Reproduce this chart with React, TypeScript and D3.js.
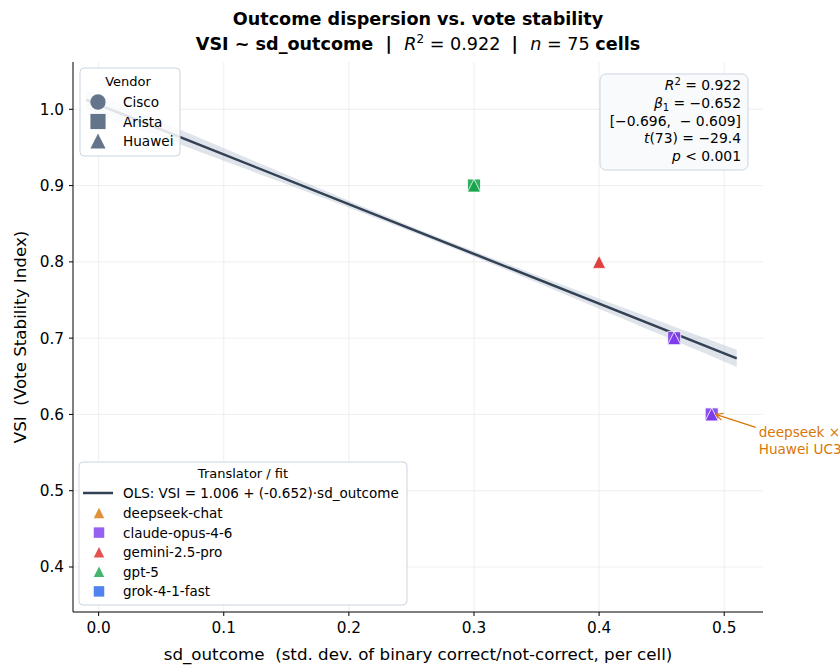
import React from 'react';
import * as d3 from 'd3';

// Translators (colour encodes translator, marker encodes vendor)
const translators = ['deepseek-chat', 'claude-opus-4-6', 'gemini-2.5-pro', 'gpt-5', 'grok-4-1-fast'];
const translatorColors = ['#d97706', '#7c3aed', '#dc2626', '#16a34a', '#2563eb'];
const translatorLegendShape = ['Huawei', 'Arista', 'Huawei', 'Huawei', 'Arista'];

const vendors = ['Cisco', 'Arista', 'Huawei'];

// Visible cells (drawn in this order)
const pointTranslator = ['gpt-5', 'gpt-5', 'gemini-2.5-pro', 'claude-opus-4-6', 'claude-opus-4-6', 'deepseek-chat', 'claude-opus-4-6', 'claude-opus-4-6'];
const pointVendor = ['Arista', 'Huawei', 'Huawei', 'Arista', 'Huawei', 'Huawei', 'Arista', 'Huawei'];
const pointX = [0.30, 0.30, 0.40, 0.46, 0.46, 0.49, 0.49, 0.49];
const pointY = [0.90, 0.90, 0.80, 0.70, 0.70, 0.60, 0.60, 0.60];

// OLS fit
const intercept = 1.006;
const slope = -0.652;
const seSlope = 0.0222;
const seAtMean = 0.0017;
const xMean = 0.27;
const tCrit = 1.993;
const fitRange = [-0.01, 0.51];

const xTicks = [0.0, 0.1, 0.2, 0.3, 0.4, 0.5];
const yTicks = [0.4, 0.5, 0.6, 0.7, 0.8, 0.9, 1.0];

const FONT = 'DejaVu Sans, sans-serif';

const triangle = {
  draw(ctx: any, size: number) {
    const r = Math.sqrt(size) / 2;
    ctx.moveTo(0, -r);
    ctx.lineTo(r, r);
    ctx.lineTo(-r, r);
    ctx.closePath();
  },
};

const shapeFor = (v: string) => (v === 'Cisco' ? d3.symbolCircle : v === 'Arista' ? d3.symbolSquare : triangle);
const symbolPath = (v: string, size: number) => {
  const s = v === 'Cisco' ? size * 0.8 : size;
  return d3.symbol().type(shapeFor(v) as any).size(s)() as string;
};

export default function App() {
  const width = 840;
  const height = 666;
  const left = 73, right = 763, top = 62, bottom = 612;

  const x = d3.scaleLinear().domain([-0.0205, 0.531]).range([left, right]);
  const y = d3.scaleLinear().domain([0.341, 1.062]).range([bottom, top]);

  const colorOf = (t: string) => translatorColors[translators.indexOf(t)];

  // regression line + confidence band
  const bandXs = d3.range(0, 41).map(i => fitRange[0] + (fitRange[1] - fitRange[0]) * i / 40);
  const half = (xv: number) => tCrit * Math.sqrt(seAtMean * seAtMean + seSlope * seSlope * (xv - xMean) * (xv - xMean));
  const band = d3.area<number>()
    .x(d => x(d))
    .y0(d => y(intercept + slope * d - half(d)))
    .y1(d => y(intercept + slope * d + half(d)))(bandXs) as string;
  const fitLine = d3.line<number>()
    .x(d => x(d))
    .y(d => y(intercept + slope * d))(fitRange) as string;

  // annotation anchor
  const ax = x(0.49), ay = y(0.60);

  return (
    <svg width={width} height={height} style={{ position: 'absolute', left: 0, top: 0, fontFamily: FONT }}>
      <defs>
        <marker id="arrow" viewBox="0 0 10 10" refX="9" refY="5" markerWidth="9" markerHeight="9" orient="auto" markerUnits="userSpaceOnUse">
          <path d="M1,1 L9,5 L1,9" fill="none" stroke="#d97706" strokeWidth={1.3} />
        </marker>
      </defs>
      <rect width={width} height={height} fill="#fff" />

      {/* title */}
      <text x={418} y={25} textAnchor="middle" fontSize={17.6} fontWeight="bold">Outcome dispersion vs. vote stability</text>
      <text x={418} y={50} textAnchor="middle" fontSize={17.6} style={{ whiteSpace: 'pre' }}>
        <tspan fontWeight="bold">{'VSI ~ sd_outcome  |  '}</tspan>
        <tspan fontStyle="italic">R</tspan>
        <tspan dy={-7} fontSize={12}>2</tspan>
        <tspan dy={7}>{' = 0.922  '}</tspan>
        <tspan fontWeight="bold">{'|  '}</tspan>
        <tspan fontStyle="italic">n</tspan>
        <tspan>{' = 75 '}</tspan>
        <tspan fontWeight="bold">cells</tspan>
      </text>

      {/* grid */}
      {xTicks.map(t => (
        <line key={'gx' + t} x1={x(t)} x2={x(t)} y1={top} y2={bottom} stroke="#ebebeb" strokeWidth={0.8} />
      ))}
      {yTicks.map(t => (
        <line key={'gy' + t} x1={left} x2={right} y1={y(t)} y2={y(t)} stroke="#ebebeb" strokeWidth={0.8} />
      ))}

      {/* fit */}
      <path d={band} fill="#94a3b8" fillOpacity={0.3} />
      <path d={fitLine} fill="none" stroke="#334155" strokeWidth={2.5} />

      {/* points */}
      {pointX.map((px, i) => (
        <path key={'p' + i}
          d={symbolPath(pointVendor[i], 170)}
          transform={`translate(${x(px)},${y(pointY[i])})`}
          fill={colorOf(pointTranslator[i])} fillOpacity={0.88}
          stroke="#fff" strokeWidth={0.8} />
      ))}

      {/* annotation (clipped at the right edge, as in the original) */}
      <line x1={ax + 44} y1={ay + 13} x2={ax + 4} y2={ay} stroke="#d97706" strokeWidth={1.3} markerEnd="url(#arrow)" />
      <text x={ax + 47} y={ay + 23} fontSize={13.6} fill="#d97706">deepseek ×</text>
      <text x={ax + 47} y={ay + 40} fontSize={13.6} fill="#d97706">Huawei UC3</text>

      {/* axes */}
      <line x1={left} x2={left} y1={top} y2={bottom} stroke="#000" strokeWidth={1} />
      <line x1={left} x2={right} y1={bottom} y2={bottom} stroke="#000" strokeWidth={1} />
      {xTicks.map(t => (
        <g key={'xt' + t}>
          <line x1={x(t)} x2={x(t)} y1={bottom} y2={bottom + 4} stroke="#000" />
          <text x={x(t)} y={bottom + 21} textAnchor="middle" fontSize={15.3}>{t.toFixed(1)}</text>
        </g>
      ))}
      {yTicks.map(t => (
        <g key={'yt' + t}>
          <line x1={left - 4} x2={left} y1={y(t)} y2={y(t)} stroke="#000" />
          <text x={left - 9} y={y(t) + 5.5} textAnchor="end" fontSize={15.3}>{t.toFixed(1)}</text>
        </g>
      ))}
      <text x={418} y={660} textAnchor="middle" fontSize={16.7} style={{ whiteSpace: 'pre' }}>
        {'sd_outcome  (std. dev. of binary correct/not-correct, per cell)'}
      </text>
      <text transform={`translate(26,${(top + bottom) / 2}) rotate(-90)`} textAnchor="middle" fontSize={16.7} style={{ whiteSpace: 'pre' }}>
        {'VSI  (Vote Stability Index)'}
      </text>

      {/* vendor legend */}
      <g>
        <rect x={80} y={68} width={100} height={88} rx={4} fill="#fff" fillOpacity={0.85} stroke="#cbd5e1" />
        <text x={128} y={86} textAnchor="middle" fontSize={13}>Vendor</text>
        {vendors.map((v, i) => (
          <g key={v}>
            <path d={symbolPath(v, 230)} transform={`translate(98,${102 + i * 19.5})`} fill="#64748b" />
            <text x={123} y={107 + i * 19.5} fontSize={13.6}>{v}</text>
          </g>
        ))}
      </g>

      {/* stats box */}
      <g fontSize={13.9}>
        <rect x={600} y={74} width={148} height={96} rx={6} fill="#f8fafc" stroke="#cbd5e1" />
        <text x={741} y={90} textAnchor="end">
          <tspan fontStyle="italic">R</tspan>
          <tspan dy={-5} fontSize={10}>2</tspan>
          <tspan dy={5}>{' = 0.922'}</tspan>
        </text>
        <text x={741} y={108} textAnchor="end">
          <tspan fontStyle="italic">β</tspan>
          <tspan dy={3} fontSize={10}>1</tspan>
          <tspan dy={-3}>{' = −0.652'}</tspan>
        </text>
        <text x={741} y={125.5} textAnchor="end" style={{ whiteSpace: 'pre' }}>{'[−0.696,  − 0.609]'}</text>
        <text x={741} y={143} textAnchor="end">
          <tspan fontStyle="italic">t</tspan>
          <tspan>{'(73) = −29.4'}</tspan>
        </text>
        <text x={741} y={160.5} textAnchor="end">
          <tspan fontStyle="italic">p</tspan>
          <tspan>{' < 0.001'}</tspan>
        </text>
      </g>

      {/* translator legend */}
      <g>
        <rect x={79} y={462} width={328} height={143} rx={4} fill="#fff" fillOpacity={0.85} stroke="#cbd5e1" />
        <text x={243} y={478} textAnchor="middle" fontSize={13}>Translator / fit</text>
        <line x1={83} x2={113} y1={493} y2={493} stroke="#334155" strokeWidth={2.5} />
        <text x={123} y={498} fontSize={13.5}>OLS: VSI = 1.006 + (-0.652)·sd_outcome</text>
        {translators.map((t, i) => (
          <g key={t}>
            <path d={symbolPath(translatorLegendShape[i], 110)} transform={`translate(99,${513 + i * 19.6})`}
              fill={translatorColors[i]} fillOpacity={0.8} />
            <text x={123} y={518 + i * 19.6} fontSize={13.5}>{t}</text>
          </g>
        ))}
      </g>
    </svg>
  );
}
